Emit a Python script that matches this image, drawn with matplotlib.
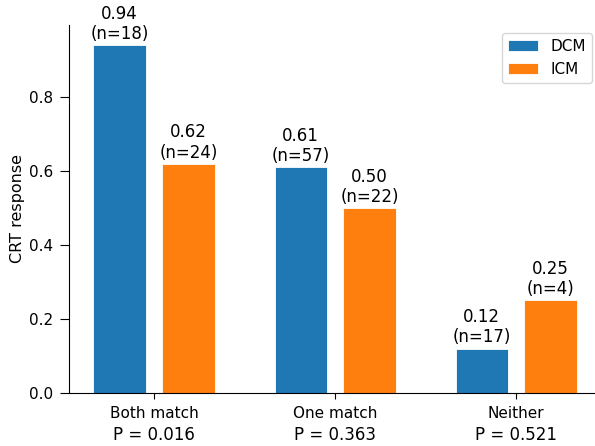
import numpy as np
import matplotlib.pyplot as plt

# CRT response by matching condition
categories = ["Both match", "One match", "Neither"]
p_values = ["P = 0.016", "P = 0.363", "P = 0.521"]
dcm = [0.94, 0.61, 0.12]
icm = [0.62, 0.50, 0.25]
dcm_n = [18, 57, 17]
icm_n = [24, 22, 4]

x = np.arange(len(categories))
width = 0.29
offset = 0.19

fig = plt.figure(figsize=(5.95, 4.46), dpi=100)
ax = fig.add_axes([0.116, 0.119, 0.884, 0.825])

b1 = ax.bar(x - offset, dcm, width, color="#1f77b4", edgecolor="white", linewidth=0.6, label="DCM")
b2 = ax.bar(x + offset, icm, width, color="#ff7f0e", edgecolor="white", linewidth=0.6, label="ICM")

for bars, vals, ns in [(b1, dcm, dcm_n), (b2, icm, icm_n)]:
    for bar, v, n in zip(bars, vals, ns):
        ax.annotate(f"{v:.2f}\n(n={n})", (bar.get_x() + bar.get_width() / 2, v),
                    xytext=(0, 1.5), textcoords="offset points",
                    ha="center", va="bottom", fontsize=12, linespacing=1.15)

ax.set_xticks(x)
ax.set_xticklabels(categories, fontsize=11)
for xi, p in zip(x, p_values):
    ax.annotate(p, (xi, 0), xycoords=("data", "axes fraction"),
                xytext=(0, -30), textcoords="offset points",
                ha="center", va="center", fontsize=12)

ax.set_xlim(-0.47, 2.435)
ax.set_ylim(0, 0.995)
ax.set_yticks([0.0, 0.2, 0.4, 0.6, 0.8])
ax.tick_params(axis="y", labelsize=11, length=6.5, pad=5)
ax.tick_params(axis="x", length=4.5, pad=5)
ax.set_ylabel("CRT response", fontsize=11.5, labelpad=2.5)
ax.spines["top"].set_visible(False)
ax.spines["right"].set_visible(False)
ax.legend(loc="upper right", bbox_to_anchor=(592 / 595, 1 - 33 / 446),
          bbox_transform=fig.transFigure, borderaxespad=0, fontsize=11)

fig.savefig("out.png", dpi=100)
